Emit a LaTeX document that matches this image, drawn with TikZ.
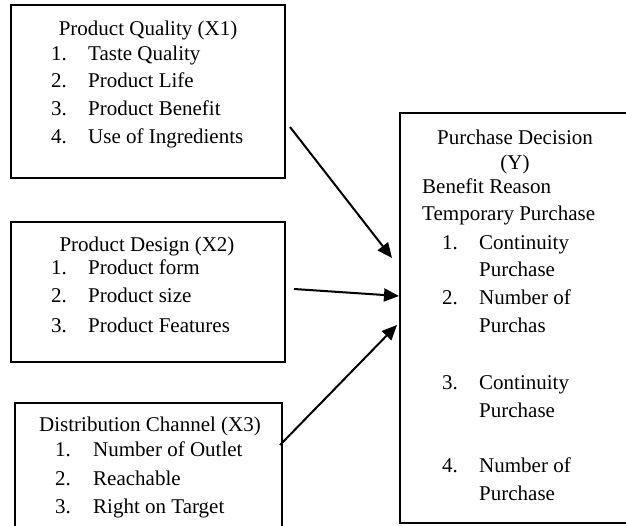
\documentclass[tikz,border=0pt]{standalone}
\usepackage{fontspec}
\setmainfont{Liberation Serif}
\usepackage{tikz}
\usetikzlibrary{arrows.meta, positioning}
\tikzstyle{varbox} = [draw=black, line width=2pt, inner sep=0pt]
\tikzstyle{title} = [inner sep=0pt, anchor=base]
\tikzstyle{item} = [inner sep=0pt, anchor=base west]
\tikzstyle{arrow} = [line width=2pt, -{Triangle[length=15pt, width=13pt]}]

\begin{document}
\begin{tikzpicture}[x=1pt, y=-1pt, font=\fontsize{21}{25}\selectfont]
        \useasboundingbox (0,0) rectangle (626,526);
        \clip (0,0) rectangle (626,526);
        \fill[white] (0,0) rectangle (626,526);

        % boxes
        \node[varbox, minimum width=274pt, minimum height=173pt] (quality) at (148, 91.5) {};
        \node[varbox, minimum width=274pt, minimum height=140pt] (design) at (148, 292) {};
        \node[varbox, minimum width=267pt, minimum height=130pt] (channel) at (148.5, 468) {};
        \node[varbox, minimum width=230pt, minimum height=410pt] (decision) at (515, 318) {};

        % product quality
        \node[title] (q0) at (148, 36) {Product Quality (X1)};
        \node[item] (q1n) at (51, 61) {1.};  \node[item] (q1) at (88, 61) {Taste Quality};
        \node[item] (q2n) at (51, 88) {2.};  \node[item] (q2) at (88, 88) {Product Life};
        \node[item] (q3n) at (51, 116) {3.}; \node[item] (q3) at (88, 116) {Product Benefit};
        \node[item] (q4n) at (51, 144) {4.}; \node[item] (q4) at (88, 144) {Use of Ingredients};

        % product design
        \node[title] (d0) at (147, 252) {Product Design (X2)};
        \node[item] (d1n) at (51, 275) {1.}; \node[item] (d1) at (88, 275) {Product form};
        \node[item] (d2n) at (51, 303) {2.}; \node[item] (d2) at (88, 303) {Product size};
        \node[item] (d3n) at (51, 332) {3.}; \node[item] (d3) at (88, 332) {Product Features};

        % distribution channel
        \node[title] (c0) at (150, 431) {Distribution Channel (X3)};
        \node[item] (c1n) at (55, 456) {1.}; \node[item] (c1) at (93, 456) {Number of Outlet};
        \node[item] (c2n) at (55, 485) {2.}; \node[item] (c2) at (93, 485) {Reachable};
        \node[item] (c3n) at (55, 513) {3.}; \node[item] (c3) at (93, 513) {Right on Target};

        % purchase decision
        \node[title] (y0) at (515, 145) {Purchase Decision};
        \node[title] (y0b) at (515, 170) {(Y)};
        \node[item] (y1) at (422, 194) {Benefit Reason};
        \node[item] (y2) at (422, 221) {Temporary Purchase};
        \node[item] (y3n) at (442, 250) {1.}; \node[item] (y3) at (479, 250) {Continuity};
        \node[item] (y3b) at (479, 277) {Purchase};
        \node[item] (y4n) at (442, 305) {2.}; \node[item] (y4) at (479, 305) {Number of};
        \node[item] (y4b) at (479, 333) {Purchas};
        \node[item] (y5n) at (442, 389) {3.}; \node[item] (y5) at (479, 389) {Continuity};
        \node[item] (y5b) at (479, 417) {Purchase};
        \node[item] (y6n) at (442, 472) {4.}; \node[item] (y6) at (479, 472) {Number of};
        \node[item] (y6b) at (479, 500) {Purchase};

        % arrows
        \coordinate (t1) at ([xshift=4pt, yshift=-35.5pt]quality.east);
        \coordinate (t2) at ([xshift=8pt, yshift=3pt]design.east);
        \coordinate (t3) at ([xshift=-3pt, yshift=23pt]channel.east);
        \coordinate (h1) at ([xshift=-7pt, yshift=60pt]decision.west);
        \coordinate (h2) at ([yshift=22pt]decision.west);
        \coordinate (h3) at ([xshift=-2pt, yshift=-7pt]decision.west);
        \draw[arrow] (t1) -- (h1);
        \draw[arrow] (t2) -- (h2);
        \draw[arrow] (t3) -- (h3);
    \end{tikzpicture}
\end{document}
